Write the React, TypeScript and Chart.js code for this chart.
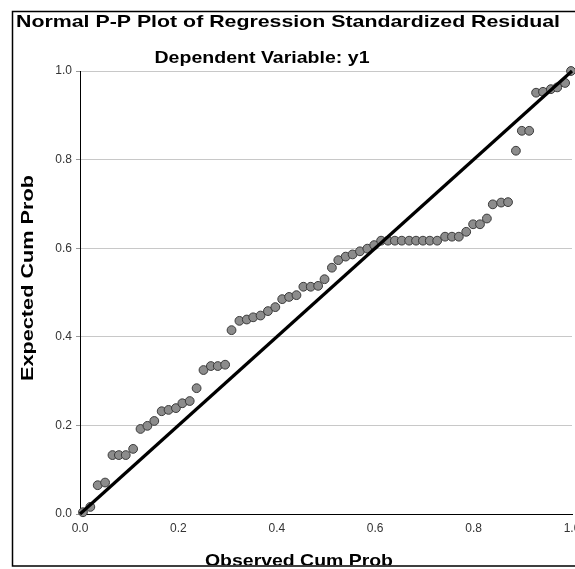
import React, { useEffect, useRef } from "react";
import { Chart, registerables } from "chart.js";

Chart.register(...registerables);

const titleText = "Normal P-P Plot of Regression Standardized Residual";
const subtitleText = "Dependent Variable: y1";
const xAxisTitle = "Observed Cum Prob";
const yAxisTitle = "Expected Cum Prob";

const tickValues = [0, 0.2, 0.4, 0.6, 0.8, 1.0];
const tickLabels = ["0.0", "0.2", "0.4", "0.6", "0.8", "1.0"];

const observedCumProb = [
  0.006, 0.021, 0.036, 0.051, 0.066, 0.079, 0.093, 0.108, 0.123, 0.137,
  0.151, 0.166, 0.18, 0.195, 0.208, 0.223, 0.237, 0.251, 0.266, 0.28,
  0.295, 0.308, 0.324, 0.339, 0.352, 0.367, 0.382, 0.397, 0.411, 0.425,
  0.44, 0.454, 0.469, 0.484, 0.497, 0.512, 0.525, 0.54, 0.554, 0.569,
  0.584, 0.598, 0.612, 0.626, 0.64, 0.654, 0.669, 0.683, 0.697, 0.711,
  0.726, 0.742, 0.756, 0.77, 0.785, 0.799, 0.813, 0.827, 0.839, 0.856,
  0.87, 0.886, 0.898, 0.913, 0.927, 0.941, 0.957, 0.97, 0.986, 0.998,
];

const expectedCumProb = [
  0.004, 0.016, 0.065, 0.071, 0.133, 0.133, 0.133, 0.147, 0.192, 0.199,
  0.21, 0.232, 0.235, 0.239, 0.25, 0.255, 0.284, 0.325, 0.334, 0.334,
  0.337, 0.415, 0.436, 0.439, 0.444, 0.448, 0.458, 0.467, 0.485, 0.49,
  0.494, 0.513, 0.513, 0.515, 0.53, 0.556, 0.573, 0.581, 0.586, 0.593,
  0.599, 0.607, 0.617, 0.617, 0.617, 0.617, 0.617, 0.617, 0.617, 0.617,
  0.617, 0.626, 0.626, 0.626, 0.637, 0.654, 0.654, 0.667, 0.699, 0.703,
  0.704, 0.82, 0.865, 0.865, 0.951, 0.953, 0.959, 0.963, 0.973, 1.0,
];

const referenceLine = [
  { x: 0, y: 0 },
  { x: 1, y: 1 },
];

const FONT = "'Liberation Sans', Arial, sans-serif";

function drawStretched(
  ctx: CanvasRenderingContext2D,
  text: string,
  cx: number,
  y: number,
  targetWidth: number
) {
  const w = ctx.measureText(text).width;
  const sx = targetWidth / w;
  ctx.save();
  ctx.translate(cx, y);
  ctx.scale(sx, 1);
  ctx.textAlign = "center";
  ctx.fillText(text, 0, 0);
  ctx.restore();
}

const decorPlugin = {
  id: "decor",
  afterDraw(chart: any) {
    const ctx = chart.ctx as CanvasRenderingContext2D;
    ctx.save();
    ctx.fillStyle = "#000";
    ctx.textBaseline = "alphabetic";
    ctx.font = `bold 17px ${FONT}`;
    drawStretched(ctx, titleText, 288, 27, 544);
    drawStretched(ctx, subtitleText, 262, 63, 215);
    // x axis title
    ctx.save();
    ctx.beginPath();
    ctx.rect(0, 0, chart.width, 565);
    ctx.clip();
    drawStretched(ctx, xAxisTitle, 299, 566, 188);
    ctx.restore();
    // y axis title
    ctx.save();
    ctx.translate(33, 278);
    ctx.rotate(-Math.PI / 2);
    drawStretched(ctx, yAxisTitle, 0, 0, 206);
    ctx.restore();
    // frame
    ctx.strokeStyle = "#000";
    ctx.lineWidth = 1.5;
    ctx.beginPath();
    ctx.moveTo(chart.width + 5, 11.5);
    ctx.lineTo(12.5, 11.5);
    ctx.lineTo(12.5, 566);
    ctx.lineTo(chart.width + 5, 566);
    ctx.stroke();
    ctx.restore();
  },
};

export default function App() {
  const ref = useRef<HTMLCanvasElement | null>(null);
  useEffect(() => {
    if (!ref.current) return;
    const points = observedCumProb.map((x, i) => ({ x, y: expectedCumProb[i] }));
    const chart = new Chart(ref.current, {
      type: "scatter",
      data: {
        datasets: [
          {
            type: "line",
            data: referenceLine,
            borderColor: "#000",
            borderWidth: 3.2,
            pointRadius: 0,
            fill: false,
            clip: false,
            order: 0,
          } as any,
          {
            type: "scatter",
            data: points,
            backgroundColor: "#8c8c8c",
            borderColor: "#3a3a3a",
            borderWidth: 1,
            pointRadius: 4.4,
            clip: false,
            order: 1,
          } as any,
        ],
      },
      options: {
        animation: false,
        responsive: false,
        devicePixelRatio: 1,
        layout: { padding: { left: 0, right: 28, top: 71, bottom: 0 } },
        plugins: {
          legend: { display: false },
          title: { display: false },
          tooltip: { enabled: false },
        },
        scales: {
          x: {
            type: "linear",
            min: 0,
            max: 1,
            afterFit: (s: any) => {
              s.height = 55;
            },
            afterBuildTicks: (s: any) => {
              s.ticks = tickValues.map((v) => ({ value: v }));
            },
            ticks: {
              callback: (v: any) => tickLabels[tickValues.indexOf(Number(v))] ?? "",
              font: { family: FONT, size: 12 },
              color: "#333",
              padding: 7,
              maxRotation: 0,
              autoSkip: false,
            },
            grid: { display: true, color: "rgba(0,0,0,0)", drawTicks: false },
            border: { display: true, color: "#000", width: 1 },
          },
          y: {
            type: "linear",
            min: 0,
            max: 1,
            afterFit: (s: any) => {
              s.width = 80;
            },
            afterBuildTicks: (s: any) => {
              s.ticks = tickValues.map((v) => ({ value: v }));
            },
            ticks: {
              callback: (v: any) => tickLabels[tickValues.indexOf(Number(v))] ?? "",
              font: { family: FONT, size: 12 },
              color: "#333",
              padding: 4,
              autoSkip: false,
            },
            grid: { display: true, color: "#c8c8c8", lineWidth: 1, drawTicks: true, tickLength: 4, tickColor: "#999" },
            border: { display: true, color: "#000", width: 1 },
          },
        },
      },
      plugins: [decorPlugin],
    });
    return () => chart.destroy();
  }, []);
  return (
    <div
      style={{
        position: "fixed",
        left: 0,
        top: 0,
        width: 575,
        height: 569,
        overflow: "hidden",
        background: "#fff",
      }}
    >
      <canvas ref={ref} width={600} height={569} style={{ display: "block", width: 600, height: 569 }} />
    </div>
  );
}
